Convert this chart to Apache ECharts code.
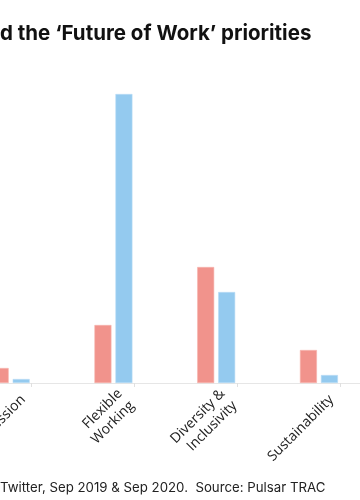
<!DOCTYPE html>
<html>
<head>
<meta charset="utf-8">
<script src="https://cdn.jsdelivr.net/npm/echarts@6/dist/echarts.min.js"></script>
<style>
html,body{margin:0;padding:0;background:#fff;}
#chart{width:360px;height:500px;}
</style>
</head>
<body>
<div id="chart"></div>
<script>
var categories = ['Progression', 'Flexible\nWorking', 'Diversity &\nInclusivity', 'Sustainability'];
var series2019 = [15, 58, 116, 33];
var series2020 = [4, 289, 91, 8];
var titleText = 'd the \u2018Future of Work\u2019 priorities';
var footerText = 'Twitter, Sep 2019 & Sep 2020.  Source: Pulsar TRAC';

var chart = echarts.init(document.getElementById('chart'), null, {renderer: 'canvas'});
var gridWidth = 411;
chart.setOption({
  animation: false,
  backgroundColor: '#fff',
  title: [
    {text: titleText, left: 0, top: 23, padding: 0,
     textStyle: {fontFamily: 'Inter', fontSize: 20.5, fontWeight: 'bold', color: '#111'}},
    {text: footerText, left: 0, top: 482, padding: 0,
     textStyle: {fontFamily: 'Inter', fontSize: 13.25, fontWeight: 'normal', color: '#222'}}
  ],
  grid: [
    {left: -40.7, width: gridWidth, top: 83, bottom: 117, outerBoundsMode: 'none', containLabel: false},
    {left: -19.7, width: gridWidth, top: 83, bottom: 117, outerBoundsMode: 'none', containLabel: false}
  ],
  xAxis: [
    {type: 'category', gridIndex: 0, data: categories,
     axisLine: {show: true, lineStyle: {color: '#e6e6e6', width: 1}},
     axisTick: {show: false}, axisLabel: {show: false}},
    {type: 'category', gridIndex: 1, data: categories,
     axisLine: {show: false},
     axisTick: {show: true, alignWithLabel: true, length: 4, lineStyle: {color: '#e0e0e0'}},
     axisLabel: {interval: 0, rotate: 45, margin: 6, padding: [0, 12, 0, 0], fontFamily: 'Open Sans', fontSize: 14, color: '#222', lineHeight: 17}}
  ],
  yAxis: [
    {type: 'value', gridIndex: 0, min: 0, max: 300, show: false},
    {type: 'value', gridIndex: 1, min: 0, max: 300, show: false}
  ],
  series: [
    {name: '2019', type: 'bar', xAxisIndex: 0, yAxisIndex: 0, data: series2019,
     barWidth: 17, barGap: '23.5%',
     itemStyle: {color: '#F1938C', borderColor: '#F6B3AD', borderWidth: 0.6}},
    {name: '2020', type: 'bar', xAxisIndex: 0, yAxisIndex: 0, data: series2020,
     barWidth: 17, barGap: '23.5%',
     itemStyle: {color: '#94CAEF', borderColor: '#B8DCF5', borderWidth: 0.6}}
  ]
});
</script>
</body>
</html>
